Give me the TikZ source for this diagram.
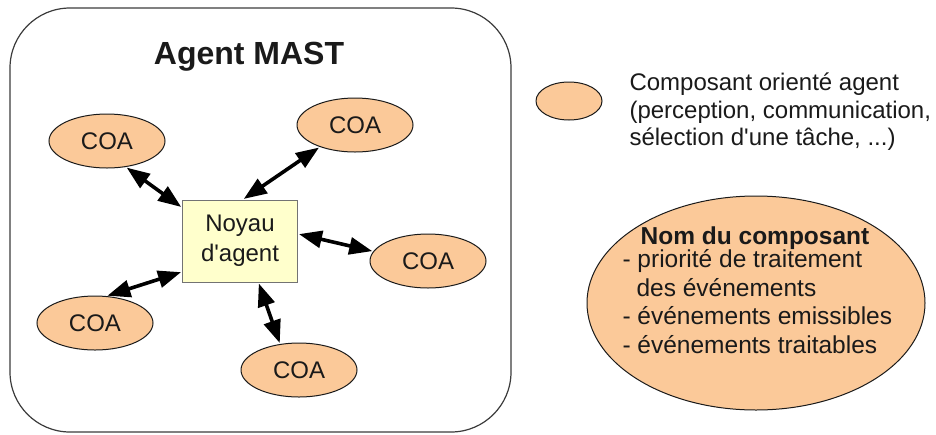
\documentclass[tikz,border=0pt]{standalone}
\usepackage{fontspec}
\setmainfont{Liberation Sans}
\usetikzlibrary{shapes.geometric,arrows.meta}
\definecolor{coafill}{HTML}{FBC999}
\definecolor{corefill}{HTML}{FFFFCC}
\definecolor{ink}{HTML}{1A1A1A}
\begin{document}
\begin{tikzpicture}[x=1pt,y=-1pt,
  coa/.style={ellipse,draw=ink,fill=coafill,line width=1pt,inner sep=0pt,
    minimum width=116pt,minimum height=54pt,text=ink,
    font=\fontsize{24}{28}\selectfont},
  core/.style={rectangle,draw=black!55,fill=corefill,line width=1pt,
    minimum width=115pt,minimum height=82pt,align=center,text=ink,
    font=\fontsize{24}{30}\selectfont},
  link/.style={line width=3.6pt,{Triangle[length=23pt,width=17pt]}-{Triangle[length=23pt,width=17pt]},shorten <=1pt,shorten >=1pt},
  legend/.style={text=ink,align=left,font=\fontsize{24}{27.5}\selectfont},
  attr/.style={text=ink,align=left,font=\fontsize{24.5}{28.5}\selectfont}]
\useasboundingbox (0,0) rectangle (936,434);
\fill[white] (0,0) rectangle (936,434);

% agent frame
\draw[ink!85,line width=1.2pt,rounded corners=60pt] (10,8) rectangle (511,432);
\node[text=ink,font=\fontsize{32}{35}\selectfont\bfseries] (title) at (249,57) {Agent MAST};

% agent core and its components
\node[core] (noyau) at (240,241) {Noyau\\d\textquotesingle agent};
\node[coa] (coa1) at (107,141) {COA};
\node[coa] (coa2) at (355,125) {COA};
\node[coa] (coa3) at (428,261) {COA};
\node[coa] (coa4) at (95,323) {COA};
\node[coa] (coa5) at (299,370) {COA};

\draw[link] (coa1.-54) -- (noyau.150);
\draw[link] (coa2.212) -- (noyau.86);
\draw[link] (coa3.170) -- (noyau.7);
\draw[link] (coa4.67) -- (noyau.208);
\draw[link] (coa5.126) -- (noyau.294);

% legend
\node[coa,minimum width=66pt,minimum height=38pt] (legcoa) at (569,101) {};
\node[legend,anchor=west] (legtext) at (626,112) {Composant orienté agent\\(perception, communication,\\sélection d\textquotesingle une tâche, ...)};

\node[ellipse,draw=ink,fill=coafill,line width=1pt,minimum width=338pt,minimum height=214pt] (comp) at (756,303) {};
\node[text=ink,font=\fontsize{24.5}{28}\selectfont\bfseries] (compname) at (755,238) {Nom du composant};
\node[attr,anchor=north west] (compattr) at (619,246)
  {- priorité de traitement\\\hspace*{14pt}des événements\\- événements emissibles\\- événements traitables};
\end{tikzpicture}
\end{document}
